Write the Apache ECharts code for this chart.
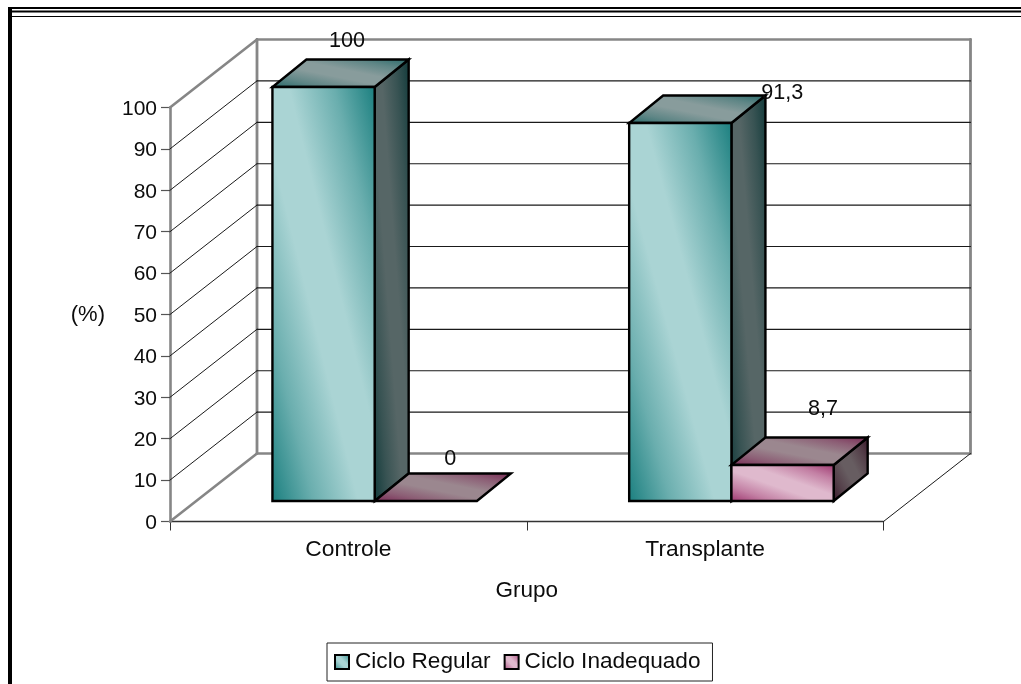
<!DOCTYPE html>
<html>
<head>
<meta charset="utf-8">
<style>html,body{margin:0;padding:0;background:#fff}#chart{width:1021px;height:684px}</style>
<script src="https://cdn.jsdelivr.net/npm/echarts@6/dist/echarts.min.js"></script>
</head>
<body>
<div id="chart"></div>
<script>
const categories = ['Controle', 'Transplante'];
const cicloRegular = [100, 91.3];
const cicloInadequado = [0, 8.7];
const axisTicks = [0, 10, 20, 30, 40, 50, 60, 70, 80, 90, 100];

const FONT = '"Liberation Sans", Arial, sans-serif';
const TEXT = '#0c0c0c';
const WALL = '#868686';

// Oblique projection: how far the back wall sits from the front plane,
// how far the bars stand from the front plane, and the depth of each bar.
const chartDepth = [87, -68];
const floorShift = [26.3, -20.5];
const barDepth = [34, -27.5];
const barBandRatio = 0.2866;

// Value label placement, relative to the middle of the bar's rear top edge.
const labelShift = [
  [[-10.5, -18], [68, -2]],
  [[-9.5, -14], [6.5, -28]]
];

const teal = {
  front: ['#1c8080', '#aad4d4'],
  top: ['#2c6c6c', '#889c9c'],
  side: ['#143c3c', '#566666']
};
const pink = {
  front: ['#a03a72', '#dfb9cd'],
  top: ['#7a2c56', '#9b878f'],
  side: ['#3c1a2c', '#675d61']
};

function mix(a, b, t) {
  const pa = parseInt(a.slice(1), 16), pb = parseInt(b.slice(1), 16);
  const ch = s => Math.round(((pa >> s) & 255) * (1 - t) + ((pb >> s) & 255) * t);
  return 'rgb(' + ch(16) + ',' + ch(8) + ',' + ch(0) + ')';
}

function ramp(pair) {
  const [dark, light] = pair;
  return [
    { offset: 0, color: dark },
    { offset: 0.2, color: mix(dark, light, 0.55) },
    { offset: 0.42, color: light },
    { offset: 0.58, color: light },
    { offset: 0.8, color: mix(dark, light, 0.55) },
    { offset: 1, color: dark }
  ];
}

// Dark in the lower-left and upper-right corners, light along the other diagonal.
function diagonalFill(x, y, w, h, pair) {
  const len = Math.hypot(w, h) || 1;
  const dx = h / len, dy = -w / len;
  const span = 2 * w * h / len;
  const x0 = x, y0 = y + h;
  return new echarts.graphic.LinearGradient(
    x0, y0, x0 + dx * span, y0 + dy * span, ramp(pair), true);
}

function face(points, pair) {
  const xs = points.map(p => p[0]), ys = points.map(p => p[1]);
  const x = Math.min(...xs), y = Math.min(...ys);
  const w = Math.max(...xs) - x, h = Math.max(...ys) - y;
  return {
    type: 'polygon',
    shape: { points },
    style: {
      fill: h > 0 && w > 0 ? diagonalFill(x, y, w, h, pair) : pair[1],
      stroke: '#000', lineWidth: 2.4, lineJoin: 'miter'
    }
  };
}

function renderBar(seriesPos, palette) {
  return function (params, api) {
    const cat = api.value(0), val = api.value(1);
    const base = api.coord([cat, 0]), head = api.coord([cat, val]);
    const barW = api.size([1, 0])[0] * barBandRatio;
    const left = base[0] + floorShift[0] + (seriesPos - 1) * barW;
    const right = left + barW;
    const bottom = base[1] + floorShift[1];
    const top = head[1] + floorShift[1];
    const [ddx, ddy] = barDepth;
    const children = [];
    if (val > 0) {
      children.push(face([[right, bottom], [right + ddx, bottom + ddy], [right + ddx, top + ddy], [right, top]], palette.side));
    }
    children.push(face([[left, top], [right, top], [right + ddx, top + ddy], [left + ddx, top + ddy]], palette.top));
    if (val > 0) {
      children.push(face([[left, bottom], [right, bottom], [right, top], [left, top]], palette.front));
    }
    const shift = labelShift[seriesPos][cat];
    children.push({
      type: 'text',
      x: (left + right) / 2 + ddx + shift[0],
      y: top + ddy + shift[1],
      style: {
        text: String(val).replace('.', ','),
        fill: TEXT, font: '21.6px ' + FONT, align: 'center', verticalAlign: 'middle'
      }
    });
    return { type: 'group', children };
  };
}

function seg(x1, y1, x2, y2, stroke, lineWidth) {
  return { type: 'line', shape: { x1, y1, x2, y2 }, style: { stroke, lineWidth, lineCap: 'round' } };
}

// Side wall, back wall and floor edges, one item per value-axis tick.
function renderWalls(params, api) {
  const val = api.value(1);
  const sys = params.coordSys;
  const y = api.coord([0, val])[1];
  const xL = sys.x, xR = sys.x + sys.width;
  const [dx, dy] = chartDepth;
  const edge = val === 0 || val === 100;
  const stroke = edge ? WALL : '#1a1a1a';
  const width = edge ? 2.6 : 1.15;
  const children = [
    seg(xL, y, xL + dx, y + dy, stroke, edge ? 2.6 : 1),
    seg(xL + dx, y + dy, xR + dx, y + dy, stroke, width)
  ];
  if (val === 0) {
    const yTop = api.coord([0, 100])[1];
    children.push(seg(xL + dx, y + dy, xL + dx, yTop + dy, WALL, 2.8));
    children.push(seg(xR + dx, y + dy, xR + dx, yTop + dy, WALL, 2.8));
    children.push(seg(xR, y, xR + dx, y + dy, '#1a1a1a', 1));
  }
  return { type: 'group', children };
}

const legendSwatch = (pair) => ({
  color: new echarts.graphic.LinearGradient(0, 1, 1, 0, ramp(pair)),
  borderColor: '#000',
  borderWidth: 2
});

const chart = echarts.init(document.getElementById('chart'), null, { renderer: 'canvas' });
chart.setOption({
  animation: false,
  backgroundColor: '#fff',
  grid: { left: 170, right: 137.5, top: 107.5, bottom: 162.5, containLabel: false },
  xAxis: {
    type: 'category',
    data: categories,
    name: 'Grupo',
    nameLocation: 'middle',
    nameGap: 58,
    nameTextStyle: { color: TEXT, fontSize: 22.5, fontFamily: FONT },
    axisLine: { lineStyle: { color: '#333', width: 1.4 } },
    axisTick: { show: true, length: 9, lineStyle: { color: '#333', width: 1 } },
    axisLabel: { color: TEXT, fontSize: 22.8, fontFamily: FONT, margin: 17 },
    splitLine: { show: false }
  },
  yAxis: {
    type: 'value',
    min: 0, max: 100, interval: 10,
    name: '(%)',
    nameLocation: 'middle',
    nameRotate: 0,
    nameGap: 65,
    nameTextStyle: { color: TEXT, fontSize: 22, fontFamily: FONT },
    axisLine: { show: true, lineStyle: { color: WALL, width: 2.6 } },
    axisTick: { show: true, length: 9, lineStyle: { color: '#555', width: 1.2 } },
    axisLabel: {
      color: TEXT, fontSize: 21, fontFamily: FONT, margin: 13,
      formatter: '{n|{value}}',
      rich: { n: { color: TEXT, fontSize: 21, fontFamily: FONT, padding: [3, 0, 0, 0] } }
    },
    splitLine: { show: false }
  },
  legend: {
    left: 327, top: 643,
    padding: [7.5, 12, 7.5, 7],
    itemWidth: 14, itemHeight: 14, itemGap: 13,
    backgroundColor: '#fff',
    borderColor: '#222', borderWidth: 1, borderRadius: 0,
    textStyle: { color: TEXT, fontSize: 22.6, fontFamily: FONT, padding: [0, 0, 0, 1] },
    data: [
      { name: 'Ciclo Regular', icon: 'rect', itemStyle: legendSwatch(teal.front) },
      { name: 'Ciclo Inadequado', icon: 'rect', itemStyle: legendSwatch(pink.front) }
    ]
  },
  // Page frame: heavy left rule and triple rule along the top.
  graphic: [
    { type: 'rect', silent: true, shape: { x: 8, y: 7, width: 4, height: 677 }, style: { fill: '#000' } },
    { type: 'rect', silent: true, shape: { x: 8, y: 7, width: 1013, height: 2 }, style: { fill: '#000' } },
    { type: 'rect', silent: true, shape: { x: 10, y: 10.5, width: 1011, height: 2 }, style: { fill: '#000' } },
    { type: 'rect', silent: true, shape: { x: 12, y: 16, width: 1009, height: 1 }, style: { fill: '#000' } }
  ],
  series: [
    { type: 'custom', name: 'walls', silent: true, z: 1, renderItem: renderWalls,
      data: axisTicks.map(v => [0, v]) },
    { type: 'custom', name: 'Ciclo Regular', silent: true, z: 2, renderItem: renderBar(0, teal),
      data: cicloRegular.map((v, i) => [i, v]) },
    { type: 'custom', name: 'Ciclo Inadequado', silent: true, z: 3, renderItem: renderBar(1, pink),
      data: cicloInadequado.map((v, i) => [i, v]) }
  ]
});
</script>
</body>
</html>
